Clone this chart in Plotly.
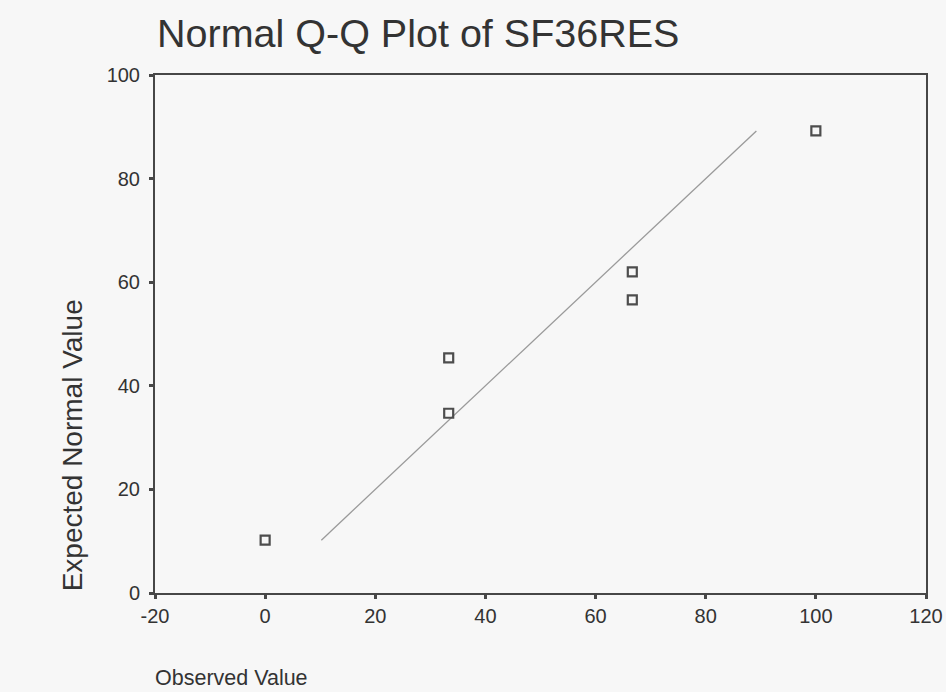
import plotly.graph_objects as go

# Observed SF36RES scores and their expected normal quantiles
observed = [0, 33.33, 33.33, 66.67, 66.67, 100]
expected = [10.2, 34.7, 45.4, 56.6, 62.0, 89.2]

# Reference line y = x spanning the expected-value range
ref_line = [10.2, 89.2]

x_ticks = [-20, 0, 20, 40, 60, 80, 100, 120]
x_tick_text = ["-20", "0", "20", "40", "60", "80", "100", "120"]
y_ticks = [0, 20, 40, 60, 80, 100]

FONT = "Liberation Sans, Arial, Helvetica, sans-serif"
INK = "#333333"
AXIS = "#474747"
BG = "#f7f7f7"

fig = go.Figure()

fig.add_trace(go.Scatter(
    x=ref_line, y=ref_line, mode="lines",
    line=dict(color="#9a9a9a", width=1.3),
    hoverinfo="skip", showlegend=False,
))

fig.add_trace(go.Scatter(
    x=observed, y=expected, mode="markers",
    marker=dict(symbol="square-open", size=9, color="#4d4d4d",
                line=dict(width=2.2, color="#4d4d4d")),
    showlegend=False,
))

axis_common = dict(
    showgrid=False, zeroline=False,
    showline=True, linecolor=AXIS, linewidth=2, mirror=True,
    ticks="outside", ticklen=4, tickwidth=3, tickcolor=AXIS,
    tickfont=dict(family=FONT, size=20, color=INK),
    automargin=False, ticklabeloverflow="allow",
)

fig.update_xaxes(range=[-20, 120], tickvals=x_ticks, ticktext=x_tick_text,
                 **axis_common)
fig.update_yaxes(range=[0, 100], tickvals=y_ticks, ticklabelstandoff=5,
                 **axis_common)

fig.update_layout(
    width=946, height=692,
    margin=dict(l=155, r=20, t=75, b=99),
    paper_bgcolor=BG, plot_bgcolor=BG,
    font=dict(family=FONT, color=INK),
    annotations=[
        dict(text="Normal Q-Q Plot of SF36RES", xref="paper", yref="paper",
             x=0.0, y=1.0, xanchor="left", yanchor="bottom", yshift=18,
             showarrow=False, font=dict(family=FONT, size=39.5, color=INK)),
        dict(text="Expected Normal Value", xref="paper", yref="paper",
             x=0, y=0.285, xanchor="center", yanchor="middle", xshift=-83,
             textangle=-90, showarrow=False,
             font=dict(family=FONT, size=28, color=INK)),
        dict(text="Observed Value", xref="paper", yref="paper",
             x=-0.003, y=0, xanchor="left", yanchor="middle", yshift=-85,
             showarrow=False, font=dict(family=FONT, size=21.5, color=INK)),
    ],
)

fig.write_html("out.html")
